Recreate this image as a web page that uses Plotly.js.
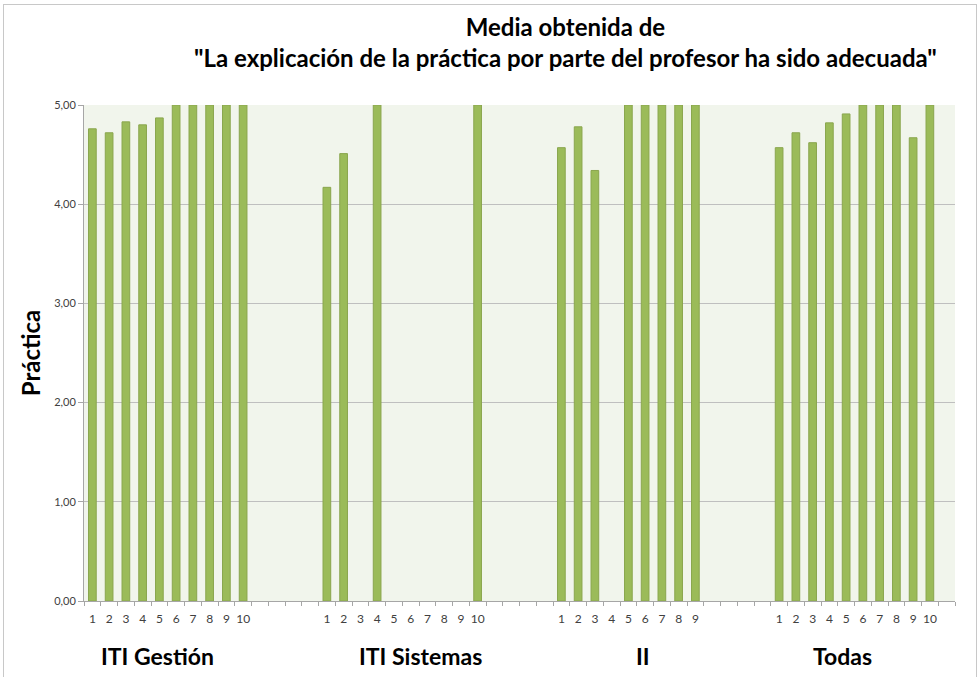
<!DOCTYPE html>
<html>
<head>
<meta charset="utf-8">
<script src="https://cdn.plot.ly/plotly-3.0.1.min.js"></script>
<style>
  html, body { margin: 0; padding: 0; background: #fff; }
  #frame { position: absolute; left: 3px; top: 4px; width: 972px; height: 680px;
           border-top: 1px solid #c8c8c8; border-left: 1px solid #c8c8c8; border-right: 1px solid #c8c8c8; }
  #chart { position: absolute; left: 0; top: 0; width: 980px; height: 677px; }
</style>
</head>
<body>
<div id="frame"></div>
<div id="chart"></div>
<script>
// ---- data ----
var groups = ["ITI Gestión", "ITI Sistemas", "II", "Todas"];
var itiGestion  = [4.76, 4.72, 4.83, 4.80, 4.87, 5.00, 5.00, 5.00, 5.00, 5.00];
var itiSistemas = [4.17, 4.51, null, 5.00, null, null, null, null, null, 5.00];
var ii          = [4.57, 4.78, 4.34, null, 5.00, 5.00, 5.00, 5.00, 5.00];
var todas       = [4.57, 4.72, 4.62, 4.82, 4.91, 5.00, 5.00, 5.00, 4.67, 5.00];
var seriesValues = [itiGestion, itiSistemas, ii, todas];
var itemLabels = [
  ["1","2","3","4","5","6","7","8","9","10"],
  ["1","2","3","4","5","6","7","8","9","10"],
  ["1","2","3","4","5","6","7","8","9"],
  ["1","2","3","4","5","6","7","8","9","10"]
];
var yTitle = "Práctica";
var titleText = "Media obtenida de<br>\"La explicación de la práctica por parte del profesor ha sido adecuada\"";

// ---- category slots: 4 empty slots between groups, 1 after the last ----
var groupGap = 4;
var groupStart = [];
var pos = 0;
for (var g = 0; g < groups.length; g++) {
  groupStart.push(pos);
  pos += itemLabels[g].length + groupGap;
}
var totalSlots = groupStart[3] + itemLabels[3].length + 1;

var xs = [], ys = [], tickvals = [], ticktext = [];
for (var g = 0; g < groups.length; g++) {
  for (var i = 0; i < itemLabels[g].length; i++) {
    var x = groupStart[g] + i;
    xs.push(x);
    ys.push(seriesValues[g][i]);
    tickvals.push(x);
    ticktext.push(itemLabels[g][i]);
  }
}
var minorTicks = [];
for (var k = 0; k <= totalSlots; k++) minorTicks.push(k - 0.5);

var FONT = "Lato, 'Open Sans', sans-serif";
var groupLabelX = [3.9, 19.6, 32.9, 44.8];
var annotations = groups.map(function (name, g) {
  return {
    x: groupLabelX[g], xref: "x", y: -0.11, yref: "paper",
    text: "<b>" + name + "</b>", showarrow: false,
    font: { family: FONT, size: 23, color: "#000" },
    xanchor: "center", yanchor: "middle"
  };
});

var trace = {
  type: "bar",
  x: xs,
  y: ys,
  width: 0.46,
  marker: { color: "#9BBB59", line: { color: "#8AA64E", width: 1 } },
  hoverinfo: "x+y"
};

var layout = {
  width: 980, height: 677,
  margin: { l: 84, r: 25, t: 105, b: 76 },
  paper_bgcolor: "rgba(0,0,0,0)",
  plot_bgcolor: "#F1F5EC",
  separators: ", ",
  showlegend: false,
  title: {
    text: titleText,
    font: { family: FONT, size: 24, color: "#000", weight: "bold" },
    x: 0.577, xanchor: "center", y: 0.947, yanchor: "top"
  },
  xaxis: {
    range: [-0.5, totalSlots - 0.5],
    tickmode: "array", tickvals: tickvals, ticktext: ticktext,
    ticks: "", showgrid: false, zeroline: false,
    showline: true, linecolor: "#a6a6a6", linewidth: 1,
    ticklabelstandoff: 7,
    tickfont: { family: FONT, size: 12, color: "#404040" },
    minor: { tickmode: "array", tickvals: minorTicks, ticks: "outside", ticklen: 4, tickcolor: "#a6a6a6", showgrid: false },
    fixedrange: true
  },
  yaxis: {
    range: [0, 5], tickvals: [0, 1, 2, 3, 4, 5], tickformat: ".2f",
    ticks: "outside", ticklen: 5, tickcolor: "#a6a6a6",
    showgrid: true, gridcolor: "#BFBFBF", gridwidth: 1,
    zeroline: false, showline: true, linecolor: "#a6a6a6", linewidth: 1,
    tickfont: { family: FONT, size: 11, color: "#404040" },
    title: { text: "<b>" + yTitle + "</b>", font: { family: FONT, size: 24, color: "#000" }, standoff: 6 },
    fixedrange: true
  },
  annotations: annotations
};

Plotly.newPlot("chart", [trace], layout, { displayModeBar: false, staticPlot: true });
</script>
</body>
</html>
